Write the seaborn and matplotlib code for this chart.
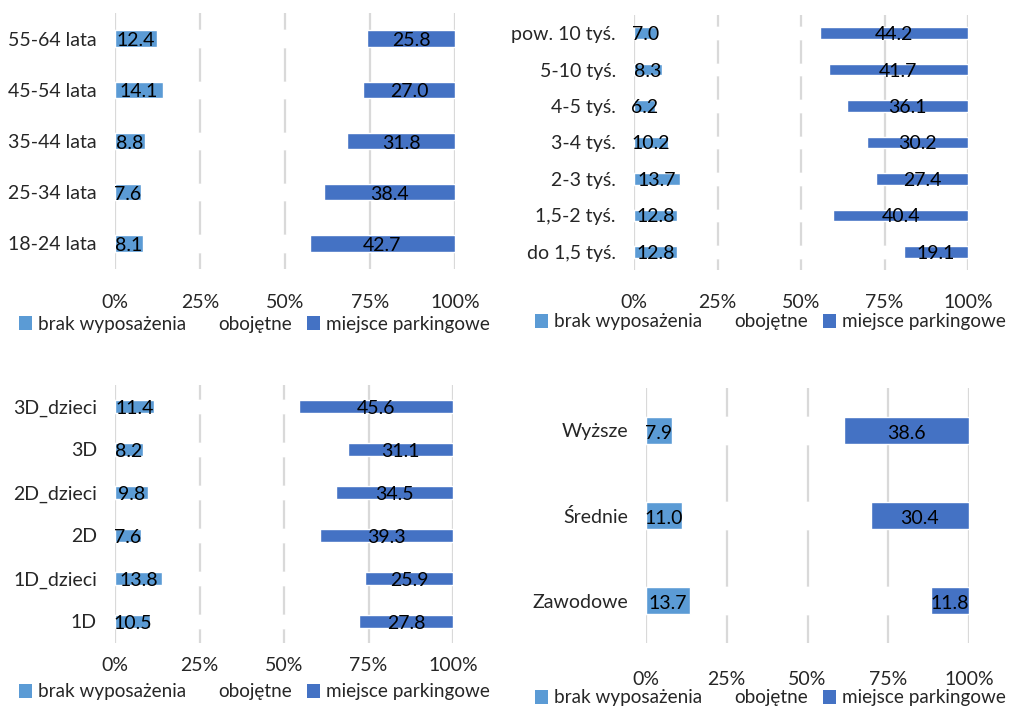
import matplotlib
matplotlib.use("Agg")
import matplotlib.pyplot as plt
from matplotlib.patches import Patch
import seaborn as sns
import pandas as pd

sns.set_style("white")
plt.rcParams["font.family"] = ["Lato", "DejaVu Sans"]

LIGHT = "#5B9BD5"
DARK = "#4472C4"
GRID = "#D9D9D9"
SERIES = ["brak wyposażenia", "obojętne", "miejsce parkingowe"]

# Age groups (top to bottom)
age_cats = ["55-64 lata", "45-54 lata", "35-44 lata", "25-34 lata", "18-24 lata"]
age_brak = [12.4, 14.1, 8.8, 7.6, 8.1]
age_park = [25.8, 27.0, 31.8, 38.4, 42.7]

# Income groups (top to bottom)
inc_cats = ["pow. 10 tyś.", "5-10 tyś.", "4-5 tyś.", "3-4 tyś.", "2-3 tyś.", "1,5-2 tyś.", "do 1,5 tyś."]
inc_brak = [7.0, 8.3, 6.2, 10.2, 13.7, 12.8, 12.8]
inc_park = [44.2, 41.7, 36.1, 30.2, 27.4, 40.4, 19.1]

# Household types (top to bottom)
hh_cats = ["3D_dzieci", "3D", "2D_dzieci", "2D", "1D_dzieci", "1D"]
hh_brak = [11.4, 8.2, 9.8, 7.6, 13.8, 10.5]
hh_park = [45.6, 31.1, 34.5, 39.3, 25.9, 27.8]

# Education (top to bottom)
edu_cats = ["Wyższe", "Średnie", "Zawodowe"]
edu_brak = [7.9, 11.0, 13.7]
edu_park = [38.6, 30.4, 11.8]

W, H = 1016, 707
fig = plt.figure(figsize=(W / 100, H / 100), dpi=100)

FS = 14
LEG_FS = 13.6


def panel(rect_px, cats, brak, park, xpad, legend_xy):
    x0, y0, x1, y1 = rect_px
    ax = fig.add_axes([x0 / W, 1 - y1 / H, (x1 - x0) / W, (y1 - y0) / H])
    df = pd.DataFrame({"cat": cats, "brak": brak, "park": park})
    df["total"] = 100.0
    df["mid_end"] = 100.0 - df["park"]
    bw = 0.32
    # Layered stacking: full bar in dark blue, then the neutral part in white, then the light part
    sns.barplot(data=df, x="total", y="cat", orient="h", color=DARK, width=bw,
                saturation=1, ax=ax, order=cats)
    sns.barplot(data=df, x="mid_end", y="cat", orient="h", color="white", width=bw,
                saturation=1, ax=ax, order=cats)
    sns.barplot(data=df, x="brak", y="cat", orient="h", color=LIGHT, width=bw,
                saturation=1, ax=ax, order=cats)
    ax.set_xlim(0, 100)
    ax.set_ylim(len(cats) - 0.5, -0.5)
    ax.set_xticks([0, 25, 50, 75, 100])
    ax.set_xticklabels(["0%", "25%", "50%", "75%", "100%"], fontsize=FS)
    ax.tick_params(axis="x", length=0, pad=xpad)
    ax.tick_params(axis="y", length=0, pad=13, labelsize=FS)
    ax.set_xlabel("")
    ax.set_ylabel("")
    ax.grid(axis="x", color=GRID, lw=1.6)
    ax.grid(axis="y", visible=False)
    ax.set_axisbelow(True)
    for s in ax.spines.values():
        s.set_visible(False)
    for i, (b, p) in enumerate(zip(brak, park)):
        ax.text(b / 2, i + 0.04, f"{b:.1f}", ha="center", va="center", fontsize=FS, color="black")
        ax.text(100 - p / 2, i + 0.04, f"{p:.1f}", ha="center", va="center", fontsize=FS, color="black")
    handles = [Patch(facecolor=LIGHT, edgecolor="none"),
               Patch(facecolor="white", edgecolor="none"),
               Patch(facecolor=DARK, edgecolor="none")]
    fig.legend(handles, SERIES, loc="center",
               bbox_to_anchor=(legend_xy[0] / W, 1 - legend_xy[1] / H),
               ncol=3, frameon=False, fontsize=LEG_FS, handlelength=0.7, handleheight=0.7,
               handletextpad=0.3, columnspacing=0.75, borderaxespad=0, borderpad=0)
    return ax


panel((115, 13, 455, 269), age_cats, age_brak, age_park, 18, (254, 324))
panel((634, 15, 968, 270), inc_cats, inc_brak, inc_park, 17, (770, 322))
panel((115, 385, 453, 643), hh_cats, hh_brak, hh_park, 10, (254, 692))
panel((646, 388, 969, 643), edu_cats, edu_brak, edu_park, 20, (770, 698))

fig.savefig("out.png", dpi=100)
